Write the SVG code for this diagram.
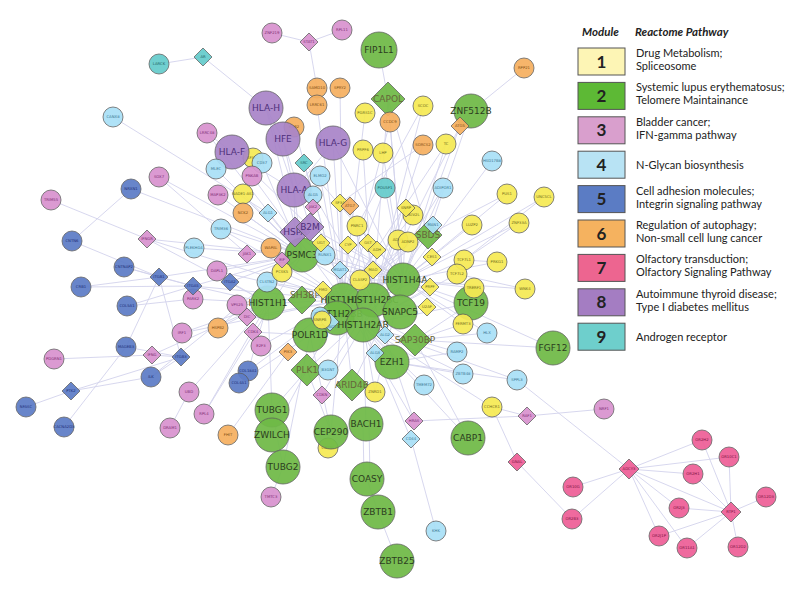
<svg xmlns="http://www.w3.org/2000/svg" width="800" height="596" viewBox="0 0 800 596">
<style>
.e{stroke:#d3d3ec;stroke-width:1;fill:none;opacity:.9}
.n{stroke:#5a5a5a;stroke-width:.8;opacity:.93}
.m1{fill:#f6ea54}.m2{fill:#6fba47}.m3{fill:#d993cf}.m4{fill:#a9e0f7}.m5{fill:#5d7cc7}.m6{fill:#f6b060}.m7{fill:#ee5f97}.m8{fill:#a985c9}.m9{fill:#66cccc}
.s{font-family:"DejaVu Sans",sans-serif;font-size:3.8px;text-anchor:middle}
.b{font-family:"DejaVu Sans",sans-serif;font-size:9px;text-anchor:middle}
.t1{fill:#6e6a1c}.t2{fill:#2c3d20}.t2d{fill:#66663a}.t3{fill:#7b2d72}.t4{fill:#3a7590}.t5{fill:#1f2f78}.t6{fill:#7d4c12}.t7{fill:#7c1342}.t8{fill:#4e2f7a}.t9{fill:#1f6262}
.lh{font-family:Lato,"Liberation Sans",sans-serif;font-size:11.5px;font-weight:bold;font-style:italic;fill:#222}
.lt{font-family:Lato,"Liberation Sans",sans-serif;font-size:11px;fill:#222}
.ln{font-family:Lato,"Liberation Sans",sans-serif;font-size:17px;font-weight:bold;fill:#222;text-anchor:middle}
.lb{stroke:#555;stroke-width:1}
</style>
<g id="connectors">
<line class="e" x1="159" y1="64" x2="203" y2="57"/>
<line class="e" x1="203" y1="57" x2="266" y2="108"/>
<line class="e" x1="266" y1="108" x2="302" y2="255"/>
<line class="e" x1="113" y1="117" x2="268" y2="213"/>
<line class="e" x1="272" y1="33" x2="309" y2="42"/>
<line class="e" x1="342" y1="30" x2="309" y2="42"/>
<line class="e" x1="309" y1="42" x2="317" y2="88"/>
<line class="e" x1="317" y1="88" x2="317" y2="105"/>
<line class="e" x1="317" y1="105" x2="343" y2="300"/>
<line class="e" x1="340" y1="88" x2="343" y2="300"/>
<line class="e" x1="379" y1="50" x2="388" y2="99"/>
<line class="e" x1="388" y1="99" x2="403" y2="280"/>
<line class="e" x1="388" y1="99" x2="373" y2="300"/>
<line class="e" x1="388" y1="99" x2="428" y2="235"/>
<line class="e" x1="390" y1="122" x2="403" y2="280"/>
<line class="e" x1="390" y1="122" x2="343" y2="300"/>
<line class="e" x1="524" y1="68" x2="471" y2="111"/>
<line class="e" x1="471" y1="111" x2="460" y2="126"/>
<line class="e" x1="460" y1="126" x2="403" y2="280"/>
<line class="e" x1="460" y1="126" x2="373" y2="300"/>
<line class="e" x1="471" y1="111" x2="428" y2="235"/>
<line class="e" x1="423" y1="106" x2="373" y2="300"/>
<line class="e" x1="423" y1="106" x2="357" y2="226"/>
<line class="e" x1="446" y1="144" x2="403" y2="280"/>
<line class="e" x1="446" y1="144" x2="343" y2="300"/>
<line class="e" x1="423" y1="145" x2="373" y2="300"/>
<line class="e" x1="423" y1="145" x2="340" y2="203"/>
<line class="e" x1="492" y1="161" x2="403" y2="280"/>
<line class="e" x1="443" y1="188" x2="403" y2="280"/>
<line class="e" x1="443" y1="188" x2="373" y2="300"/>
<line class="e" x1="507" y1="194" x2="403" y2="280"/>
<line class="e" x1="507" y1="194" x2="428" y2="235"/>
<line class="e" x1="544" y1="197" x2="464" y2="260"/>
<line class="e" x1="544" y1="197" x2="403" y2="280"/>
<line class="e" x1="472" y1="225" x2="403" y2="280"/>
<line class="e" x1="519" y1="223" x2="403" y2="280"/>
<line class="e" x1="519" y1="223" x2="464" y2="260"/>
<line class="e" x1="497" y1="262" x2="403" y2="280"/>
<line class="e" x1="497" y1="262" x2="464" y2="260"/>
<line class="e" x1="525" y1="289" x2="457" y2="274"/>
<line class="e" x1="525" y1="289" x2="403" y2="280"/>
<line class="e" x1="474" y1="288" x2="403" y2="280"/>
<line class="e" x1="471" y1="303" x2="403" y2="280"/>
<line class="e" x1="471" y1="303" x2="363" y2="325"/>
<line class="e" x1="471" y1="303" x2="415" y2="340"/>
<line class="e" x1="464" y1="260" x2="373" y2="300"/>
<line class="e" x1="457" y1="274" x2="363" y2="325"/>
<line class="e" x1="463" y1="324" x2="403" y2="280"/>
<line class="e" x1="463" y1="324" x2="415" y2="340"/>
<line class="e" x1="487" y1="333" x2="403" y2="280"/>
<line class="e" x1="487" y1="333" x2="415" y2="340"/>
<line class="e" x1="553" y1="348" x2="415" y2="340"/>
<line class="e" x1="553" y1="348" x2="403" y2="280"/>
<line class="e" x1="457" y1="352" x2="363" y2="325"/>
<line class="e" x1="457" y1="352" x2="392" y2="362"/>
<line class="e" x1="463" y1="374" x2="392" y2="362"/>
<line class="e" x1="463" y1="374" x2="363" y2="325"/>
<line class="e" x1="517" y1="380" x2="392" y2="362"/>
<line class="e" x1="517" y1="380" x2="363" y2="325"/>
<line class="e" x1="517" y1="380" x2="629" y2="469"/>
<line class="e" x1="424" y1="385" x2="363" y2="325"/>
<line class="e" x1="492" y1="407" x2="363" y2="325"/>
<line class="e" x1="492" y1="407" x2="527" y2="416"/>
<line class="e" x1="492" y1="407" x2="517" y2="462"/>
<line class="e" x1="527" y1="416" x2="604" y2="409"/>
<line class="e" x1="527" y1="416" x2="414" y2="421"/>
<line class="e" x1="517" y1="462" x2="572" y2="519"/>
<line class="e" x1="411" y1="439" x2="436" y2="531"/>
<line class="e" x1="411" y1="439" x2="363" y2="325"/>
<line class="e" x1="414" y1="421" x2="373" y2="300"/>
<line class="e" x1="414" y1="421" x2="343" y2="300"/>
<line class="e" x1="468" y1="438" x2="363" y2="325"/>
<line class="e" x1="468" y1="438" x2="415" y2="340"/>
<line class="e" x1="363" y1="424" x2="364" y2="479"/>
<line class="e" x1="369" y1="424" x2="370" y2="479"/>
<line class="e" x1="366" y1="424" x2="363" y2="325"/>
<line class="e" x1="367" y1="479" x2="378" y2="512"/>
<line class="e" x1="378" y1="512" x2="397" y2="561"/>
<line class="e" x1="331" y1="432" x2="343" y2="300"/>
<line class="e" x1="331" y1="432" x2="310" y2="335"/>
<line class="e" x1="331" y1="432" x2="307" y2="370"/>
<line class="e" x1="272" y1="410" x2="283" y2="467"/>
<line class="e" x1="272" y1="410" x2="307" y2="370"/>
<line class="e" x1="272" y1="435" x2="307" y2="370"/>
<line class="e" x1="283" y1="467" x2="310" y2="335"/>
<line class="e" x1="272" y1="410" x2="268" y2="303"/>
<line class="e" x1="271" y1="497" x2="283" y2="467"/>
<line class="e" x1="228" y1="435" x2="288" y2="352"/>
<line class="e" x1="170" y1="428" x2="189" y2="392"/>
<line class="e" x1="189" y1="392" x2="268" y2="303"/>
<line class="e" x1="204" y1="414" x2="268" y2="303"/>
<line class="e" x1="204" y1="414" x2="302" y2="255"/>
<line class="e" x1="26" y1="407" x2="71" y2="391"/>
<line class="e" x1="71" y1="391" x2="151" y2="377"/>
<line class="e" x1="71" y1="391" x2="181" y2="357"/>
<line class="e" x1="64" y1="427" x2="126" y2="347"/>
<line class="e" x1="54" y1="359" x2="152" y2="355"/>
<line class="e" x1="152" y1="355" x2="181" y2="357"/>
<line class="e" x1="152" y1="355" x2="268" y2="303"/>
<line class="e" x1="126" y1="347" x2="181" y2="357"/>
<line class="e" x1="126" y1="347" x2="159" y2="277"/>
<line class="e" x1="151" y1="377" x2="181" y2="357"/>
<line class="e" x1="151" y1="377" x2="302" y2="255"/>
<line class="e" x1="182" y1="333" x2="343" y2="300"/>
<line class="e" x1="182" y1="333" x2="268" y2="303"/>
<line class="e" x1="127" y1="306" x2="193" y2="286"/>
<line class="e" x1="127" y1="306" x2="193" y2="299"/>
<line class="e" x1="81" y1="287" x2="159" y2="277"/>
<line class="e" x1="81" y1="287" x2="193" y2="286"/>
<line class="e" x1="124" y1="267" x2="159" y2="277"/>
<line class="e" x1="124" y1="267" x2="193" y2="286"/>
<line class="e" x1="72" y1="241" x2="159" y2="277"/>
<line class="e" x1="131" y1="189" x2="72" y2="241"/>
<line class="e" x1="131" y1="189" x2="302" y2="255"/>
<line class="e" x1="51" y1="200" x2="147" y2="239"/>
<line class="e" x1="159" y1="177" x2="302" y2="255"/>
<line class="e" x1="159" y1="177" x2="247" y2="254"/>
<line class="e" x1="147" y1="239" x2="302" y2="255"/>
<line class="e" x1="147" y1="239" x2="268" y2="303"/>
<line class="e" x1="147" y1="239" x2="343" y2="300"/>
<line class="e" x1="194" y1="248" x2="302" y2="255"/>
<line class="e" x1="159" y1="277" x2="193" y2="286"/>
<line class="e" x1="159" y1="277" x2="181" y2="357"/>
<line class="e" x1="159" y1="277" x2="302" y2="255"/>
<line class="e" x1="193" y1="286" x2="302" y2="255"/>
<line class="e" x1="193" y1="286" x2="268" y2="303"/>
<line class="e" x1="193" y1="286" x2="343" y2="300"/>
<line class="e" x1="193" y1="299" x2="268" y2="303"/>
<line class="e" x1="217" y1="271" x2="302" y2="255"/>
<line class="e" x1="217" y1="271" x2="343" y2="300"/>
<line class="e" x1="230" y1="282" x2="268" y2="303"/>
<line class="e" x1="230" y1="282" x2="302" y2="255"/>
<line class="e" x1="207" y1="133" x2="232" y2="152"/>
<line class="e" x1="207" y1="133" x2="302" y2="255"/>
<line class="e" x1="266" y1="108" x2="283" y2="139"/>
<line class="e" x1="266" y1="108" x2="294" y2="190"/>
<line class="e" x1="232" y1="152" x2="294" y2="190"/>
<line class="e" x1="283" y1="139" x2="294" y2="190"/>
<line class="e" x1="333" y1="143" x2="294" y2="190"/>
<line class="e" x1="294" y1="190" x2="302" y2="255"/>
<line class="e" x1="294" y1="190" x2="295" y2="232"/>
<line class="e" x1="333" y1="143" x2="343" y2="300"/>
<line class="e" x1="232" y1="152" x2="310" y2="227"/>
<line class="e" x1="283" y1="139" x2="310" y2="227"/>
<line class="e" x1="333" y1="143" x2="403" y2="280"/>
<line class="e" x1="216" y1="169" x2="302" y2="255"/>
<line class="e" x1="262" y1="163" x2="302" y2="255"/>
<line class="e" x1="218" y1="195" x2="302" y2="255"/>
<line class="e" x1="243" y1="194" x2="302" y2="255"/>
<line class="e" x1="252" y1="176" x2="343" y2="300"/>
<line class="e" x1="243" y1="213" x2="302" y2="255"/>
<line class="e" x1="221" y1="229" x2="302" y2="255"/>
<line class="e" x1="221" y1="229" x2="343" y2="300"/>
<line class="e" x1="268" y1="213" x2="302" y2="255"/>
<line class="e" x1="271" y1="248" x2="343" y2="300"/>
<line class="e" x1="282" y1="272" x2="343" y2="300"/>
<line class="e" x1="267" y1="282" x2="373" y2="300"/>
<line class="e" x1="363" y1="150" x2="373" y2="300"/>
<line class="e" x1="383" y1="153" x2="403" y2="280"/>
<line class="e" x1="365" y1="113" x2="343" y2="300"/>
<line class="e" x1="385" y1="188" x2="403" y2="280"/>
<line class="e" x1="385" y1="188" x2="343" y2="300"/>
<line class="e" x1="320" y1="176" x2="343" y2="300"/>
<line class="e" x1="313" y1="193" x2="373" y2="300"/>
<line class="e" x1="237" y1="305" x2="268" y2="303"/>
<line class="e" x1="237" y1="305" x2="343" y2="300"/>
<line class="e" x1="247" y1="317" x2="343" y2="300"/>
<line class="e" x1="253" y1="332" x2="310" y2="335"/>
<line class="e" x1="261" y1="346" x2="343" y2="300"/>
<line class="e" x1="218" y1="328" x2="268" y2="303"/>
<line class="e" x1="218" y1="328" x2="302" y2="255"/>
<line class="e" x1="248" y1="371" x2="268" y2="303"/>
<line class="e" x1="248" y1="371" x2="343" y2="300"/>
<line class="e" x1="239" y1="383" x2="310" y2="335"/>
<line class="e" x1="322" y1="395" x2="363" y2="325"/>
<line class="e" x1="328" y1="370" x2="373" y2="300"/>
<line class="e" x1="375" y1="392" x2="363" y2="325"/>
<line class="e" x1="375" y1="392" x2="403" y2="280"/>
<line class="e" x1="294" y1="127" x2="343" y2="300"/>
<line class="e" x1="304" y1="163" x2="343" y2="300"/>
<line class="e" x1="304" y1="163" x2="403" y2="280"/>
<line class="e" x1="340" y1="203" x2="403" y2="280"/>
<line class="e" x1="340" y1="203" x2="343" y2="300"/>
<line class="e" x1="406" y1="208" x2="403" y2="280"/>
<line class="e" x1="406" y1="208" x2="373" y2="300"/>
<line class="e" x1="321" y1="243" x2="403" y2="280"/>
<line class="e" x1="348" y1="245" x2="403" y2="280"/>
<line class="e" x1="348" y1="245" x2="343" y2="300"/>
<line class="e" x1="368" y1="243" x2="373" y2="300"/>
<line class="e" x1="377" y1="250" x2="343" y2="300"/>
<line class="e" x1="432" y1="257" x2="373" y2="300"/>
<line class="e" x1="373" y1="270" x2="343" y2="300"/>
<line class="e" x1="323" y1="290" x2="403" y2="280"/>
<line class="e" x1="430" y1="287" x2="363" y2="325"/>
<line class="e" x1="427" y1="307" x2="343" y2="300"/>
<line class="e" x1="357" y1="226" x2="403" y2="280"/>
<line class="e" x1="357" y1="226" x2="363" y2="325"/>
<line class="e" x1="413" y1="215" x2="343" y2="300"/>
<line class="e" x1="398" y1="240" x2="363" y2="325"/>
<line class="e" x1="408" y1="242" x2="343" y2="300"/>
<line class="e" x1="360" y1="280" x2="403" y2="280"/>
<line class="e" x1="325" y1="255" x2="403" y2="280"/>
<line class="e" x1="340" y1="270" x2="403" y2="280"/>
<line class="e" x1="433" y1="225" x2="343" y2="300"/>
<line class="e" x1="350" y1="206" x2="373" y2="300"/>
<line class="e" x1="302" y1="255" x2="403" y2="280"/>
<line class="e" x1="302" y1="255" x2="373" y2="300"/>
<line class="e" x1="268" y1="303" x2="403" y2="280"/>
<line class="e" x1="310" y1="335" x2="403" y2="280"/>
<line class="e" x1="307" y1="370" x2="403" y2="280"/>
<line class="e" x1="307" y1="370" x2="343" y2="300"/>
<line class="e" x1="352" y1="385" x2="403" y2="280"/>
<line class="e" x1="352" y1="385" x2="343" y2="300"/>
<line class="e" x1="392" y1="362" x2="343" y2="300"/>
<line class="e" x1="415" y1="340" x2="343" y2="300"/>
<line class="e" x1="428" y1="235" x2="343" y2="300"/>
<line class="e" x1="428" y1="235" x2="363" y2="325"/>
<line class="e" x1="302" y1="300" x2="403" y2="280"/>
<line class="e" x1="310" y1="227" x2="403" y2="280"/>
<line class="e" x1="295" y1="232" x2="373" y2="300"/>
<line class="e" x1="573" y1="487" x2="629" y2="469"/>
<line class="e" x1="572" y1="519" x2="629" y2="469"/>
<line class="e" x1="702" y1="440" x2="629" y2="469"/>
<line class="e" x1="729" y1="457" x2="629" y2="469"/>
<line class="e" x1="693" y1="474" x2="629" y2="469"/>
<line class="e" x1="679" y1="508" x2="629" y2="469"/>
<line class="e" x1="659" y1="536" x2="629" y2="469"/>
<line class="e" x1="687" y1="548" x2="629" y2="469"/>
<line class="e" x1="629" y1="469" x2="731" y2="512"/>
<line class="e" x1="702" y1="440" x2="731" y2="512"/>
<line class="e" x1="729" y1="457" x2="731" y2="512"/>
<line class="e" x1="693" y1="474" x2="731" y2="512"/>
<line class="e" x1="766" y1="497" x2="731" y2="512"/>
<line class="e" x1="679" y1="508" x2="731" y2="512"/>
<line class="e" x1="659" y1="536" x2="731" y2="512"/>
<line class="e" x1="687" y1="548" x2="731" y2="512"/>
<line class="e" x1="738" y1="547" x2="731" y2="512"/>
</g>
<g id="nodes">
<g id="n-EGR2"><circle class="n m6" cx="294" cy="127" r="10"/><text class="s t6" x="294" y="128.3">EGR2</text></g>
<g id="n-FIP1L1"><circle class="n m2" cx="379" cy="50" r="18"/><text class="b t2" x="379" y="53.2">FIP1L1</text></g>
<g id="n-CAPOL"><polygon class="n m2" points="388,82 405,99 388,116 371,99"/><text class="b t2d" x="388" y="102.2">CAPOL</text></g>
<g id="n-ZNF512B"><circle class="n m2" cx="471" cy="111" r="17"/><text class="b t2" x="471" y="114.2">ZNF512B</text></g>
<g id="n-HLA-H"><circle class="n m8" cx="266" cy="108" r="17"/><text class="b t8" x="266" y="111.2">HLA-H</text></g>
<g id="n-HFE"><circle class="n m8" cx="283" cy="139" r="17"/><text class="b t8" x="283" y="142.2">HFE</text></g>
<g id="n-HLA-G"><circle class="n m8" cx="333" cy="143" r="17"/><text class="b t8" x="333" y="146.2">HLA-G</text></g>
<g id="n-SF3B1"><circle class="n m1" cx="253" cy="158" r="10"/><text class="s t1" x="253" y="159.3">SF3B1</text></g>
<g id="n-HLA-F"><circle class="n m8" cx="232" cy="152" r="17"/><text class="b t8" x="232" y="155.2">HLA-F</text></g>
<g id="n-HLA-A"><circle class="n m8" cx="294" cy="190" r="17"/><text class="b t8" x="294" y="193.2">HLA-A</text></g>
<g id="n-PSMC3"><circle class="n m2" cx="302" cy="255" r="17"/><text class="b t2" x="302" y="258.2">PSMC3</text></g>
<g id="n-HSPA"><polygon class="n m8" points="295,217 310,232 295,247 280,232"/><text class="b t8" x="295" y="235.2">HSPA</text></g>
<g id="n-B2M"><polygon class="n m8" points="310,213 324,227 310,241 296,227"/><text class="b t8" x="310" y="230.2">B2M</text></g>
<g id="n-HIST1H1"><circle class="n m2" cx="268" cy="303" r="17"/><text class="b t2" x="268" y="306.2">HIST1H1</text></g>
<g id="n-SH3BP"><polygon class="n m2" points="302,286 316,300 302,314 288,300"/><text class="b t2d" x="305" y="298">SH3BP</text></g>
<g id="n-HIST1H3A"><circle class="n m2" cx="343" cy="300" r="17"/><text class="b t2" x="343" y="303.2">HIST1H3A</text></g>
<g id="n-HIST1H2BC"><circle class="n m2" cx="373" cy="300" r="17"/><text class="b t2" x="373" y="303.2">HIST1H2BC</text></g>
<g id="n-HIST1H4A"><circle class="n m2" cx="403" cy="280" r="17"/><text class="b t2" x="405" y="283.2">HIST1H4A</text></g>
<g id="n-SNAPC5"><circle class="n m2" cx="400" cy="312" r="17"/><text class="b t2" x="400" y="315.2">SNAPC5</text></g>
<g id="n-HIST1H2BB"><circle class="n m2" cx="337" cy="318" r="17"/><text class="b t2" x="337" y="317">HIST1H2BB</text></g>
<g id="n-HIST1H2AB"><circle class="n m2" cx="363" cy="325" r="17"/><text class="b t2" x="363" y="328.2">HIST1H2AB</text></g>
<g id="n-POLR1D"><circle class="n m2" cx="310" cy="335" r="17"/><text class="b t2" x="310" y="338.2">POLR1D</text></g>
<g id="n-SAP30BP"><polygon class="n m2" points="415,324 431,340 415,356 399,340"/><text class="b t2d" x="415" y="343.2">SAP30BP</text></g>
<g id="n-EZH1"><circle class="n m2" cx="392" cy="362" r="17"/><text class="b t2" x="392" y="365.2">EZH1</text></g>
<g id="n-SBDS"><polygon class="n m2" points="428,221 442,235 428,249 414,235"/><text class="b t2d" x="428" y="238.2">SBDS</text></g>
<g id="n-TCF19"><circle class="n m2" cx="471" cy="303" r="17"/><text class="b t2" x="471" y="306.2">TCF19</text></g>
<g id="n-FGF12"><circle class="n m2" cx="553" cy="348" r="17"/><text class="b t2" x="553" y="351.2">FGF12</text></g>
<g id="n-PLK1"><polygon class="n m2" points="307,354 323,370 307,386 291,370"/><text class="b t2d" x="307" y="373.2">PLK1</text></g>
<g id="n-ARID4B"><polygon class="n m2" points="352,369 368,385 352,401 336,385"/><text class="b t2d" x="352" y="388.2">ARID4B</text></g>
<g id="n-TUBG1"><circle class="n m2" cx="272" cy="410" r="17"/><text class="b t2" x="272" y="413.2">TUBG1</text></g>
<g id="n-ZWILCH"><circle class="n m2" cx="272" cy="435" r="17"/><text class="b t2" x="272" y="438.2">ZWILCH</text></g>
<g id="n-TUBG2"><circle class="n m2" cx="283" cy="467" r="17"/><text class="b t2" x="283" y="470.2">TUBG2</text></g>
<g id="n-CDC5L"><circle class="n m1" cx="328" cy="448" r="10"/><text class="s t1" x="328" y="449.3">CDC5L</text></g>
<g id="n-CEP290"><circle class="n m2" cx="331" cy="432" r="17"/><text class="b t2" x="331" y="435.2">CEP290</text></g>
<g id="n-BACH1"><circle class="n m2" cx="366" cy="424" r="17"/><text class="b t2" x="366" y="427.2">BACH1</text></g>
<g id="n-COASY"><circle class="n m2" cx="367" cy="479" r="17"/><text class="b t2" x="367" y="482.2">COASY</text></g>
<g id="n-ZBTB1"><circle class="n m2" cx="378" cy="512" r="17"/><text class="b t2" x="378" y="515.2">ZBTB1</text></g>
<g id="n-ZBTB25"><circle class="n m2" cx="397" cy="561" r="17"/><text class="b t2" x="397" y="564.2">ZBTB25</text></g>
<g id="n-CABP1"><circle class="n m2" cx="468" cy="438" r="17"/><text class="b t2" x="468" y="441.2">CABP1</text></g>

<g id="n-LARCK"><circle class="n m9" cx="159" cy="64" r="10"/><text class="s t9" x="159" y="65.3">LARCK</text></g>
<g id="n-AR"><polygon class="n m9" points="203,48 212,57 203,66 194,57"/><text class="s t9" x="203" y="58.3">AR</text></g>
<g id="n-SRC"><polygon class="n m9" points="304,154 313,163 304,172 295,163"/><text class="s t9" x="304" y="164.3">SRC</text></g>
<g id="n-POU5F1"><circle class="n m9" cx="385" cy="188" r="10"/><text class="s t9" x="385" y="189.3">POU5F1</text></g>

<g id="n-CANX8"><circle class="n m4" cx="113" cy="117" r="10"/><text class="s t4" x="113" y="118.3">CANX8</text></g>
<g id="n-HSD17B8"><circle class="n m4" cx="492" cy="161" r="10"/><text class="s t4" x="492" y="162.3">HSD17B8</text></g>
<g id="n-ADIPOR1"><circle class="n m4" cx="443" cy="188" r="10"/><text class="s t4" x="443" y="189.3">ADIPOR1</text></g>
<g id="n-CD37"><circle class="n m4" cx="262" cy="163" r="10"/><text class="s t4" x="262" y="164.3">CD37</text></g>
<g id="n-MLEC"><circle class="n m4" cx="216" cy="169" r="10"/><text class="s t4" x="216" y="170.3">MLEC</text></g>
<g id="n-ELMO2"><circle class="n m4" cx="320" cy="176" r="10"/><text class="s t4" x="320" y="177.3">ELMO2</text></g>
<g id="n-ALG5"><circle class="n m4" cx="313" cy="195" r="9"/><text class="s t4" x="313" y="196.3">ALG5</text></g>
<g id="n-ALG1"><polygon class="n m4" points="268,204 277,213 268,222 259,213"/><text class="s t4" x="268" y="214.3">ALG1</text></g>
<g id="n-TRIM36"><circle class="n m4" cx="221" cy="229" r="10"/><text class="s t4" x="221" y="230.3">TRIM36</text></g>
<g id="n-PLEKHG4"><circle class="n m4" cx="194" cy="248" r="10"/><text class="s t4" x="194" y="249.3">PLEKHG4</text></g>
<g id="n-CLSTN2"><circle class="n m4" cx="267" cy="282" r="10"/><text class="s t4" x="267" y="283.3">CLSTN2</text></g>
<g id="n-RUNX1"><circle class="n m4" cx="325" cy="255" r="10"/><text class="s t4" x="325" y="256.3">RUNX1</text></g>
<g id="n-MGAT1"><polygon class="n m4" points="340,261 349,270 340,279 331,270"/><text class="s t4" x="340" y="271.3">MGAT1</text></g>
<g id="n-MAN1"><polygon class="n m4" points="433,216 442,225 433,234 424,225"/><text class="s t4" x="433" y="226.3">MAN1</text></g>
<g id="n-DPM1"><circle class="n m4" cx="320" cy="316" r="9"/><text class="s t4" x="320" y="314.8">DPM1</text></g>
<g id="n-DPAGT1"><polygon class="n m4" points="330,313 339,322 330,331 321,322"/><text class="s t4" x="331" y="327.5">DPAGT1</text></g>
<g id="n-ALG2"><polygon class="n m4" points="385,326 394,335 385,344 376,335"/><text class="s t4" x="385" y="336.3">ALG2</text></g>
<g id="n-ALG3"><polygon class="n m4" points="375,344 384,353 375,362 366,353"/><text class="s t4" x="375" y="354.3">ALG3</text></g>
<g id="n-B3GNT"><circle class="n m4" cx="328" cy="370" r="10"/><text class="s t4" x="328" y="371.3">B3GNT</text></g>
<g id="n-CD44"><polygon class="n m4" points="411,430 420,439 411,448 402,439"/><text class="s t4" x="411" y="440.3">CD44</text></g>
<g id="n-KHK"><circle class="n m4" cx="436" cy="531" r="10"/><text class="s t4" x="436" y="532.3">KHK</text></g>
<g id="n-HLX"><circle class="n m4" cx="487" cy="333" r="10"/><text class="s t4" x="487" y="334.3">HLX</text></g>
<g id="n-RAMP2"><circle class="n m4" cx="457" cy="352" r="10"/><text class="s t4" x="457" y="353.3">RAMP2</text></g>
<g id="n-ZBTB48"><circle class="n m4" cx="463" cy="374" r="10"/><text class="s t4" x="463" y="375.3">ZBTB48</text></g>
<g id="n-TMEM72"><circle class="n m4" cx="424" cy="385" r="10"/><text class="s t4" x="424" y="386.3">TMEM72</text></g>
<g id="n-SPPL3"><circle class="n m4" cx="517" cy="380" r="10"/><text class="s t4" x="517" y="381.3">SPPL3</text></g>

<g id="n-SCOC"><circle class="n m1" cx="423" cy="106" r="10"/><text class="s t1" x="423" y="107.3">SCOC</text></g>
<g id="n-TC"><circle class="n m1" cx="446" cy="144" r="10"/><text class="s t1" x="446" y="145.3">TC</text></g>
<g id="n-PGRS1C"><circle class="n m1" cx="365" cy="113" r="10"/><text class="s t1" x="365" y="114.3">PGRS1C</text></g>
<g id="n-PRPF6"><circle class="n m1" cx="363" cy="150" r="10"/><text class="s t1" x="363" y="151.3">PRPF6</text></g>
<g id="n-LHP"><circle class="n m1" cx="383" cy="153" r="10"/><text class="s t1" x="383" y="154.3">LHP</text></g>
<g id="n-NADE1"><circle class="n m1" cx="243" cy="194" r="10"/><text class="s t1" x="243" y="195.3">NADE1-AS1</text></g>
<g id="n-PUS1"><circle class="n m1" cx="507" cy="194" r="10"/><text class="s t1" x="507" y="195.3">PUS1</text></g>
<g id="n-UNC5CL"><circle class="n m1" cx="544" cy="197" r="10"/><text class="s t1" x="544" y="198.3">UNC5CL</text></g>
<g id="n-LUZP2"><circle class="n m1" cx="472" cy="225" r="10"/><text class="s t1" x="472" y="226.3">LUZP2</text></g>
<g id="n-ZNF33A"><circle class="n m1" cx="519" cy="223" r="10"/><text class="s t1" x="519" y="224.3">ZNF33A</text></g>
<g id="n-TCF7L1"><circle class="n m1" cx="464" cy="260" r="10"/><text class="s t1" x="464" y="261.3">TCF7L1</text></g>
<g id="n-PRKG1"><circle class="n m1" cx="497" cy="262" r="10"/><text class="s t1" x="497" y="263.3">PRKG1</text></g>
<g id="n-TCF7L2"><circle class="n m1" cx="457" cy="274" r="10"/><text class="s t1" x="457" y="275.3">TCF7L2</text></g>
<g id="n-WNK4"><circle class="n m1" cx="525" cy="289" r="10"/><text class="s t1" x="525" y="290.3">WNK4</text></g>
<g id="n-TRERF1"><circle class="n m1" cx="474" cy="288" r="10"/><text class="s t1" x="474" y="289.3">TRERF1</text></g>
<g id="n-FERMT3"><circle class="n m1" cx="463" cy="324" r="10"/><text class="s t1" x="463" y="325.3">FERMT3</text></g>
<g id="n-SKI2"><circle class="n m1" cx="413" cy="215" r="10"/><text class="s t1" x="413" y="216.3">SKIV2L</text></g>
<g id="n-PNRC1"><circle class="n m1" cx="357" cy="226" r="10"/><text class="s t1" x="357" y="227.3">PNRC1</text></g>
<g id="n-ADNP"><circle class="n m1" cx="398" cy="240" r="10"/><text class="s t1" x="398" y="241.3">ADNP</text></g>
<g id="n-ADNP2"><circle class="n m1" cx="408" cy="242" r="10"/><text class="s t1" x="408" y="243.3">ADNP2</text></g>
<g id="n-CLASP2"><circle class="n m1" cx="360" cy="280" r="10"/><text class="s t1" x="360" y="281.3">CLASP2</text></g>
<g id="n-PCSK5"><circle class="n m1" cx="282" cy="272" r="10"/><text class="s t1" x="282" y="273.3">PCSK5</text></g>
<g id="n-SNRPB"><circle class="n m1" cx="322" cy="320" r="9"/><text class="s t1" x="320" y="321.3">SNRPB</text></g>
<g id="n-ZNRD1"><circle class="n m1" cx="375" cy="392" r="10"/><text class="s t1" x="375" y="393.3">ZNRD1</text></g>
<g id="n-CCHCR1"><circle class="n m1" cx="492" cy="407" r="10"/><text class="s t1" x="492" y="408.3">CCHCR1</text></g>
<g id="n-d1a"><polygon class="n m1" points="340,194 349,203 340,212 331,203"/><text class="s t1" x="340" y="204.3">SF3A</text></g>
<g id="n-d1b"><polygon class="n m1" points="406,199 415,208 406,217 397,208"/><text class="s t1" x="406" y="209.3">SNRP</text></g>
<g id="n-d1c"><polygon class="n m1" points="321,234 330,243 321,252 312,243"/><text class="s t1" x="321" y="244.3">UGT</text></g>
<g id="n-d1d"><polygon class="n m1" points="348,236 357,245 348,254 339,245"/><text class="s t1" x="348" y="246.3">CYP</text></g>
<g id="n-d1e"><polygon class="n m1" points="368,234 377,243 368,252 359,243"/><text class="s t1" x="368" y="244.3">GST</text></g>
<g id="n-d1f"><polygon class="n m1" points="377,241 386,250 377,259 368,250"/><text class="s t1" x="377" y="251.3">ADH</text></g>
<g id="n-d1g"><polygon class="n m1" points="432,248 441,257 432,266 423,257"/><text class="s t1" x="432" y="258.3">CES1</text></g>
<g id="n-d1h"><polygon class="n m1" points="373,261 382,270 373,279 364,270"/><text class="s t1" x="373" y="271.3">MAO</text></g>
<g id="n-d1i"><polygon class="n m1" points="323,281 332,290 323,299 314,290"/><text class="s t1" x="323" y="291.3">FMO</text></g>
<g id="n-d1j"><polygon class="n m1" points="430,278 439,287 430,296 421,287"/><text class="s t1" x="430" y="288.3">PRPF</text></g>
<g id="n-d1k"><polygon class="n m1" points="427,298 436,307 427,316 418,307"/><text class="s t1" x="427" y="308.3">U2AF</text></g>

<g id="n-SAMD10"><circle class="n m6" cx="317" cy="88" r="10"/><text class="s t6" x="317" y="89.3">SAMD10</text></g>
<g id="n-SPRY2"><circle class="n m6" cx="340" cy="88" r="10"/><text class="s t6" x="340" y="89.3">SPRY2</text></g>
<g id="n-UNG01"><circle class="n m6" cx="317" cy="105" r="10"/><text class="s t6" x="317" y="106.3">LRRC61</text></g>
<g id="n-CCDC9"><circle class="n m6" cx="390" cy="122" r="10"/><text class="s t6" x="390" y="123.3">CCDC9</text></g>
<g id="n-RPP21"><circle class="n m6" cx="524" cy="68" r="10"/><text class="s t6" x="524" y="69.3">RPP21</text></g>
<g id="n-SORCS2"><circle class="n m6" cx="423" cy="145" r="10"/><text class="s t6" x="423" y="146.3">SORCS2</text></g>
<g id="n-NCK5"><circle class="n m6" cx="243" cy="213" r="10"/><text class="s t6" x="243" y="214.3">NCK2</text></g>
<g id="n-WAPAL"><circle class="n m6" cx="271" cy="248" r="10"/><text class="s t6" x="271" y="249.3">WAPAL</text></g>
<g id="n-HSPA2"><circle class="n m6" cx="218" cy="328" r="10"/><text class="s t6" x="218" y="329.3">HSPB2</text></g>
<g id="n-FHIT"><circle class="n m6" cx="228" cy="435" r="10"/><text class="s t6" x="228" y="436.3">FHIT</text></g>
<g id="n-d6a"><polygon class="n m6" points="460,117 469,126 460,135 451,126"/><text class="s t6" x="460" y="127.3">ATG5</text></g>
<g id="n-d6b"><polygon class="n m6" points="350,197 359,206 350,215 341,206"/><text class="s t6" x="350" y="207.3">ATG7</text></g>
<g id="n-d6c"><polygon class="n m6" points="288,343 297,352 288,361 279,352"/><text class="s t6" x="288" y="353.3">PIK3</text></g>

<g id="n-ZNF219"><circle class="n m3" cx="272" cy="33" r="10"/><text class="s t3" x="272" y="34.3">ZNF219</text></g>
<g id="n-RPL11"><circle class="n m3" cx="342" cy="30" r="10"/><text class="s t3" x="342" y="31.3">RPL11</text></g>
<g id="n-STAT1"><polygon class="n m3" points="309,33 318,42 309,51 300,42"/><text class="s t3" x="309" y="43.3">STAT1</text></g>
<g id="n-LRRC48"><circle class="n m3" cx="207" cy="133" r="10"/><text class="s t3" x="207" y="134.3">LRRC48</text></g>
<g id="n-SOX7"><circle class="n m3" cx="159" cy="177" r="10"/><text class="s t3" x="159" y="178.3">SOX7</text></g>
<g id="n-TRIM55"><circle class="n m3" cx="51" cy="200" r="10"/><text class="s t3" x="51" y="201.3">TRIM55</text></g>
<g id="n-MAP3K2"><circle class="n m3" cx="218" cy="195" r="10"/><text class="s t3" x="218" y="196.3">MAP3K2</text></g>
<g id="n-PNKP"><circle class="n m3" cx="252" cy="176" r="10"/><text class="s t3" x="252" y="177.3">PNKAB</text></g>
<g id="n-d3b"><polygon class="n m3" points="147,230 156,239 147,248 138,239"/><text class="s t3" x="147" y="240.3">IFNGR</text></g>
<g id="n-d3c"><polygon class="n m3" points="247,245 256,254 247,263 238,254"/><text class="s t3" x="247" y="255.3">JAK1</text></g>
<g id="n-d3d"><polygon class="n m3" points="282,252 290,260 282,268 274,260"/><text class="s t3" x="282" y="261.3">EIF</text></g>
<g id="n-d3e"><polygon class="n m3" points="313,199 321,207 313,215 305,207"/><text class="s t3" x="313" y="208.3">JAK2</text></g>
<g id="n-DAPL1"><circle class="n m3" cx="217" cy="271" r="10"/><text class="s t3" x="217" y="272.3">DAPL1</text></g>
<g id="n-PARK2"><circle class="n m3" cx="193" cy="299" r="10"/><text class="s t3" x="193" y="300.3">PARK2</text></g>
<g id="n-IRF1"><circle class="n m3" cx="182" cy="333" r="10"/><text class="s t3" x="182" y="334.3">IRF1</text></g>
<g id="n-IFNG"><polygon class="n m3" points="152,346 161,355 152,364 143,355"/><text class="s t3" x="152" y="356.3">IFNG</text></g>
<g id="n-PDGRN1"><circle class="n m3" cx="54" cy="359" r="10"/><text class="s t3" x="54" y="360.3">PDGRN1</text></g>
<g id="n-UBD"><circle class="n m3" cx="189" cy="392" r="10"/><text class="s t3" x="189" y="393.3">UBD</text></g>
<g id="n-RPL4"><circle class="n m3" cx="204" cy="414" r="10"/><text class="s t3" x="204" y="415.3">RPL4</text></g>
<g id="n-DRAM1"><circle class="n m3" cx="170" cy="428" r="10"/><text class="s t3" x="170" y="429.3">DRAM1</text></g>
<g id="n-VPS25"><circle class="n m3" cx="237" cy="305" r="10"/><text class="s t3" x="237" y="306.3">VPS25</text></g>
<g id="n-d3f"><polygon class="n m3" points="247,308 256,317 247,326 238,317"/><text class="s t3" x="247" y="318.3">DIC</text></g>
<g id="n-d3g"><polygon class="n m3" points="253,323 262,332 253,341 244,332"/><text class="s t3" x="253" y="333.3">CDK4</text></g>
<g id="n-E2F3"><circle class="n m3" cx="261" cy="346" r="10"/><text class="s t3" x="261" y="347.3">E2F3</text></g>
<g id="n-d3h"><polygon class="n m3" points="322,386 331,395 322,404 313,395"/><text class="s t3" x="322" y="396.3">CDKN</text></g>
<g id="n-TMTC3"><circle class="n m3" cx="271" cy="497" r="10"/><text class="s t3" x="271" y="498.3">TMTC3</text></g>
<g id="n-d3i"><polygon class="n m3" points="414,412 423,421 414,430 405,421"/><text class="s t3" x="414" y="422.3">HRAS</text></g>
<g id="n-d3j"><polygon class="n m3" points="527,407 536,416 527,425 518,416"/><text class="s t3" x="527" y="417.3">RAF1</text></g>
<g id="n-NRF1"><circle class="n m3" cx="604" cy="409" r="10"/><text class="s t3" x="604" y="410.3">NRF1</text></g>

<g id="n-NRXN1"><circle class="n m5" cx="131" cy="189" r="10"/><text class="s t5" x="131" y="190.3">NRXN1</text></g>
<g id="n-CNTN6"><circle class="n m5" cx="72" cy="241" r="10"/><text class="s t5" x="72" y="242.3">CNTN6</text></g>
<g id="n-CNTNAP2"><circle class="n m5" cx="124" cy="267" r="10"/><text class="s t5" x="124" y="268.3">CNTNAP2</text></g>
<g id="n-ITGB1"><polygon class="n m5" points="159,268 168,277 159,286 150,277"/><text class="s t5" x="159" y="278.3">ITGB1</text></g>
<g id="n-CRB1"><circle class="n m5" cx="81" cy="287" r="10"/><text class="s t5" x="81" y="288.3">CRB1</text></g>
<g id="n-ITGA5"><polygon class="n m5" points="193,277 202,286 193,295 184,286"/><text class="s t5" x="193" y="287.3">ITGA5</text></g>
<g id="n-COL5A1"><circle class="n m5" cx="127" cy="306" r="10"/><text class="s t5" x="127" y="307.3">COL5A1</text></g>
<g id="n-MAGEB3"><circle class="n m5" cx="126" cy="347" r="10"/><text class="s t5" x="126" y="348.3">MAGEB3</text></g>
<g id="n-ITGB3"><polygon class="n m5" points="181,348 190,357 181,366 172,357"/><text class="s t5" x="181" y="358.3">ITGB3</text></g>
<g id="n-ILK"><circle class="n m5" cx="151" cy="377" r="10"/><text class="s t5" x="151" y="378.3">ILK</text></g>
<g id="n-PTK2"><polygon class="n m5" points="71,382 80,391 71,400 62,391"/><text class="s t5" x="71" y="392.3">PTK2</text></g>
<g id="n-NFASC"><circle class="n m5" cx="26" cy="407" r="10"/><text class="s t5" x="26" y="408.3">NFASC</text></g>
<g id="n-CACNA2D3"><circle class="n m5" cx="64" cy="427" r="10"/><text class="s t5" x="64" y="428.3">CACNA2D3</text></g>
<g id="n-ITGA2"><polygon class="n m5" points="230,273 239,282 230,291 221,282"/><text class="s t5" x="230" y="283.3">ITGA2</text></g>
<g id="n-COL18A1"><circle class="n m5" cx="248" cy="371" r="10"/><text class="s t5" x="248" y="372.3">COL18A1</text></g>
<g id="n-COL4A1"><circle class="n m5" cx="239" cy="383" r="10"/><text class="s t5" x="239" y="384.3">COL4A1</text></g>

<g id="n-GNAL"><polygon class="n m7" points="517,453 526,462 517,471 508,462"/><text class="s t7" x="517" y="463.3">GNAL</text></g>
<g id="n-ADCY3"><polygon class="n m7" points="629,459 639,469 629,479 619,469"/><text class="s t7" x="629" y="470.3">ADCY3</text></g>
<g id="n-RTP1"><polygon class="n m7" points="731,502 741,512 731,522 721,512"/><text class="s t7" x="731" y="513.3">RTP1</text></g>
<g id="n-OR10G"><circle class="n m7" cx="573" cy="487" r="10"/><text class="s t7" x="573" y="488.3">OR10G</text></g>
<g id="n-OR2B3"><circle class="n m7" cx="572" cy="519" r="10"/><text class="s t7" x="572" y="520.3">OR2B3</text></g>
<g id="n-OR2H2"><circle class="n m7" cx="702" cy="440" r="10"/><text class="s t7" x="702" y="441.3">OR2H2</text></g>
<g id="n-OR10C1"><circle class="n m7" cx="729" cy="457" r="10"/><text class="s t7" x="729" y="458.3">OR10C1</text></g>
<g id="n-OR2H1"><circle class="n m7" cx="693" cy="474" r="10"/><text class="s t7" x="693" y="475.3">OR2H1</text></g>
<g id="n-OR12D3"><circle class="n m7" cx="766" cy="497" r="10"/><text class="s t7" x="766" y="498.3">OR12D3</text></g>
<g id="n-OR2J3"><circle class="n m7" cx="679" cy="508" r="10"/><text class="s t7" x="679" y="509.3">OR2J3</text></g>
<g id="n-OR10P1"><circle class="n m7" cx="659" cy="536" r="10"/><text class="s t7" x="659" y="537.3">OR2J1P</text></g>
<g id="n-OR11A1"><circle class="n m7" cx="687" cy="548" r="10"/><text class="s t7" x="687" y="549.3">OR11A1</text></g>
<g id="n-OR12D2"><circle class="n m7" cx="738" cy="547" r="10"/><text class="s t7" x="738" y="548.3">OR12D2</text></g>
</g>
<g id="legend">
<text class="lh" x="582" y="36">Module</text>
<text class="lh" x="635" y="36">Reactome Pathway</text>
<rect class="lb" x="578" y="48" width="47" height="27" fill="#fdf5b5"/>
<rect class="lb" x="578" y="82.4" width="47" height="27" fill="#5db935"/>
<rect class="lb" x="578" y="116.8" width="47" height="27" fill="#d99fcd"/>
<rect class="lb" x="578" y="151.2" width="47" height="27" fill="#b8e3f4"/>
<rect class="lb" x="578" y="185.6" width="47" height="27" fill="#5b7cc4"/>
<rect class="lb" x="578" y="220" width="47" height="27" fill="#f5b25f"/>
<rect class="lb" x="578" y="254.4" width="47" height="27" fill="#ed6590"/>
<rect class="lb" x="578" y="288.8" width="47" height="27" fill="#a47dc2"/>
<rect class="lb" x="578" y="323.2" width="47" height="27" fill="#6ecfcc"/>
<text class="ln" x="601.5" y="67.5">1</text>
<text class="ln" x="601.5" y="101.9">2</text>
<text class="ln" x="601.5" y="136.3">3</text>
<text class="ln" x="601.5" y="170.7">4</text>
<text class="ln" x="601.5" y="205.1">5</text>
<text class="ln" x="601.5" y="239.5">6</text>
<text class="ln" x="601.5" y="273.9">7</text>
<text class="ln" x="601.5" y="308.3">8</text>
<text class="ln" x="601.5" y="342.7">9</text>
<text class="lt" x="636" y="57">Drug Metabolism;</text>
<text class="lt" x="636" y="70">Spliceosome</text>
<text class="lt" x="636" y="91.4">Systemic lupus erythematosus;</text>
<text class="lt" x="636" y="104.4">Telomere Maintainance</text>
<text class="lt" x="636" y="125.8">Bladder cancer;</text>
<text class="lt" x="636" y="138.8">IFN-gamma pathway</text>
<text class="lt" x="636" y="168.7">N-Glycan biosynthesis</text>
<text class="lt" x="636" y="194.6">Cell adhesion molecules;</text>
<text class="lt" x="636" y="207.6">Integrin signaling pathway</text>
<text class="lt" x="636" y="229">Regulation of autophagy;</text>
<text class="lt" x="636" y="242">Non-small cell lung cancer</text>
<text class="lt" x="636" y="263.4">Olfactory transduction;</text>
<text class="lt" x="636" y="276.4">Olfactory Signaling Pathway</text>
<text class="lt" x="636" y="297.8">Autoimmune thyroid disease;</text>
<text class="lt" x="636" y="310.8">Type I diabetes mellitus</text>
<text class="lt" x="636" y="340.7">Androgen receptor</text>
</g>
</svg>
